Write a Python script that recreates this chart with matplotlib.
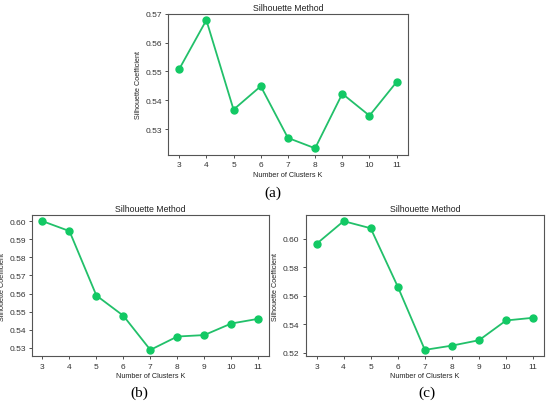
import matplotlib
matplotlib.use("Agg")
import matplotlib.pyplot as plt

plt.rcParams['font.family'] = ['Liberation Sans', 'DejaVu Sans']

k_values = [3, 4, 5, 6, 7, 8, 9, 10, 11]
# silhouette coefficient per panel
sil_a = [0.5508, 0.5678, 0.5368, 0.5449, 0.5270, 0.5234, 0.5423, 0.5347, 0.5464]
sil_b = [0.6001, 0.5946, 0.5589, 0.5477, 0.5288, 0.5362, 0.5370, 0.5434, 0.5460]
sil_c = [0.5965, 0.6125, 0.6075, 0.5664, 0.5219, 0.5249, 0.5287, 0.5426, 0.5445]
captions = ['(a)', '(b)', '(c)']

line_col = '#22c06a'
dot_col = '#12c964'

fig = plt.figure(figsize=(5.5, 4.06), dpi=100)
ax_a = fig.add_axes([0.306, 0.6165, 0.435, 0.3473])
ax_b = fig.add_axes([0.0576, 0.1199, 0.4315, 0.3488])
ax_c = fig.add_axes([0.5558, 0.1199, 0.4333, 0.3488])

for ax, vals in zip([ax_a, ax_b, ax_c], [sil_a, sil_b, sil_c]):
    ax.plot(k_values, vals, color=line_col, lw=1.3, marker='o', ms=5,
            mfc=dot_col, mec=dot_col)
    ax.set_xticks(k_values)
    ax.set_title('Silhouette Method', fontsize=6.3, pad=2.5, color='#222222')
    ax.set_xlabel('Number of Clusters K', fontsize=5.2, labelpad=2, color='#222222')
    ax.set_ylabel('Silhouette Coefficient', fontsize=5.2, labelpad=2.5, color='#222222')
    ax.tick_params(labelsize=6, length=2.5, width=0.6, pad=2, colors='#333333')
    for s in ax.spines.values():
        s.set_color('#555555')
        s.set_linewidth(0.8)

ax_a.set_yticks([0.53, 0.54, 0.55, 0.56, 0.57])
ax_b.set_yticks([0.53, 0.54, 0.55, 0.56, 0.57, 0.58, 0.59, 0.60])
ax_c.set_yticks([0.52, 0.54, 0.56, 0.58, 0.60])
ax_a.yaxis.set_major_formatter(matplotlib.ticker.FormatStrFormatter('%.2f'))
ax_b.yaxis.set_major_formatter(matplotlib.ticker.FormatStrFormatter('%.2f'))
ax_c.yaxis.set_major_formatter(matplotlib.ticker.FormatStrFormatter('%.2f'))

# panel (b) sits against the left edge, keep its label inside
ax_b.tick_params(axis='y', pad=1.5)
ax_b.yaxis.set_label_coords((6.5 - 31.7) / 237.3, 0.5)

cap_pos = [(273 / 550, 1 - 193 / 406), (139 / 550, 1 - 393 / 406), (427 / 550, 1 - 393 / 406)]
for txt, (x, y) in zip(captions, cap_pos):
    fig.text(x, y, txt, ha='center', va='center', fontsize=11,
             family=['Liberation Serif', 'DejaVu Serif'])

fig.savefig('out.png', dpi=100)
